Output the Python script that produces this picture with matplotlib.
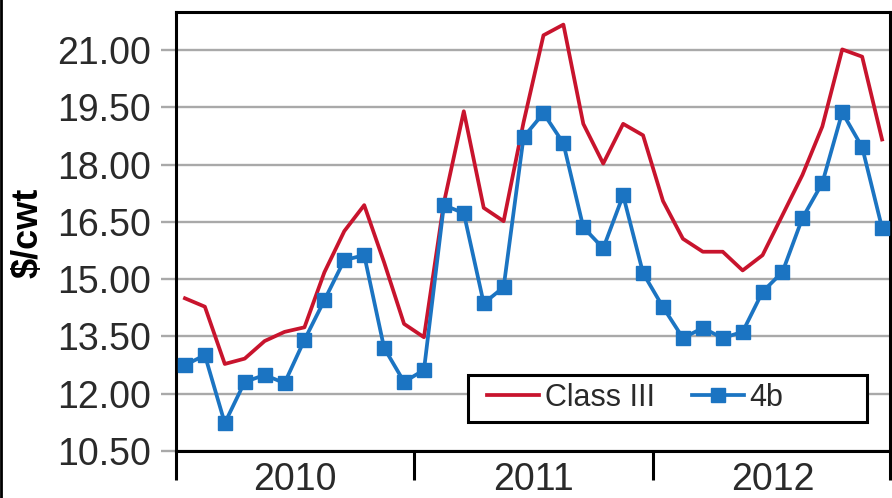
import matplotlib
matplotlib.use('Agg')
import matplotlib.pyplot as plt
import matplotlib.patches as patches
from matplotlib.lines import Line2D
from matplotlib.ticker import FixedLocator, NullFormatter

# Monthly milk prices, Jan 2010 - Dec 2012 ($/cwt)
years = ['2010', '2011', '2012']
class_iii = [14.50, 14.28, 12.78, 12.92, 13.38, 13.62, 13.74, 15.18, 16.26, 16.94, 15.44, 13.83,
             13.48, 17.00, 19.40, 16.87, 16.52, 19.11, 21.39, 21.67, 19.07, 18.03, 19.07, 18.77,
             17.05, 16.06, 15.72, 15.72, 15.23, 15.63, 16.68, 17.73, 19.00, 21.02, 20.83, 18.66]
class_4b = [12.75, 13.01, 11.23, 12.31, 12.49, 12.28, 13.41, 14.45, 15.50, 15.63, 13.20, 12.31,
            12.62, 16.94, 16.73, 14.37, 14.79, 18.72, 19.35, 18.56, 16.36, 15.81, 17.20, 15.16,
            14.27, 13.46, 13.72, 13.46, 13.62, 14.67, 15.19, 16.60, 17.52, 19.37, 18.46, 16.34]
y_ticks = [10.50, 12.00, 13.50, 15.00, 16.50, 18.00, 19.50, 21.00]

red = '#c8142d'
blue = '#1b74c2'
grid_gray = '#a9a9a9'
text_col = '#2a2a2a'
font = ['Liberation Sans', 'DejaVu Sans']

fig = plt.figure(figsize=(8.92, 4.98), dpi=100)
ax = fig.add_axes([0.1973, 0.0944, 0.8005, 0.8815])

months = list(range(len(class_iii)))
ax.plot(months, class_iii, color=red, lw=2.7, label='Class III', zorder=3)
ax.plot(months, class_4b, color=blue, lw=2.7, marker='s', markersize=10,
        label='4b', zorder=3)

ax.set_ylim(10.5, 22.0)
x0, x1 = -0.45, 35.4
ax.set_xlim(x0, x1)

# horizontal grid, drawn with the same gray as the outward y ticks
ax.set_yticks(y_ticks)
ax.set_yticklabels(['%.2f' % v for v in y_ticks], family=font, fontsize=27, color=text_col)
ax.yaxis.grid(True, color=grid_gray, lw=1.7, zorder=0)
ax.tick_params(axis='y', length=11, width=1.7, color=grid_gray, pad=7)

# year separators as long ticks, year names centred between them
ax.xaxis.set_major_locator(FixedLocator([x0, 11.5, 23.5, x1]))
ax.xaxis.set_major_formatter(NullFormatter())
ax.xaxis.set_minor_locator(FixedLocator([5.5, 17.5, 29.5]))
ax.set_xticklabels(years, minor=True, family=font, fontsize=27, color=text_col)
ax.tick_params(axis='x', which='major', length=21, width=2.2, color='black')
ax.tick_params(axis='x', which='minor', length=0, pad=8)

for sp in ax.spines.values():
    sp.set_linewidth(2.2)
    sp.set_color('black')

fig.text(28 / 892, 1 - 233 / 498, '$/cwt', family=font, fontsize=26,
         fontweight='bold', color='black', rotation=90, ha='center', va='center')

# legend box is wider than its entries, so draw the frame separately
frame = patches.Rectangle((0.409, 0.066), 0.559, 0.107, transform=ax.transAxes,
                          facecolor='white', edgecolor='black', lw=2.2, zorder=4)
ax.add_patch(frame)
leg = ax.legend(loc='center left', bbox_to_anchor=(0.414, 0.121), ncol=2,
                frameon=False, borderpad=0, handlelength=1.7, handletextpad=0.2,
                columnspacing=1.2, prop={'family': font, 'size': 22})
leg.set_zorder(5)
for t in leg.get_texts():
    t.set_color(text_col)

# thin border at the left edge of the image
fig.add_artist(Line2D([0.0015, 0.0015], [0, 1], transform=fig.transFigure,
                      color='black', lw=2))

fig.savefig('out.png', dpi=100)
